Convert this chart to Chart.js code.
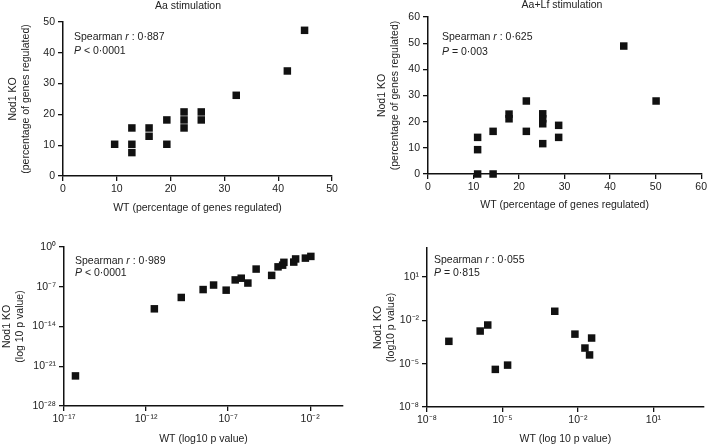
<!DOCTYPE html>
<html>
<head>
<meta charset="utf-8">
<script src="https://cdn.jsdelivr.net/npm/chart.js@4/dist/chart.umd.min.js"></script>
<style>
  html, body { margin: 0; padding: 0; background: #fff; }
  #wrap { position: relative; width: 709px; height: 446px; overflow: hidden; }
  canvas { position: absolute; }
</style>
</head>
<body>
<div id="wrap">
  <canvas id="c1" width="355" height="220" style="left:0;top:0;width:355px;height:220px"></canvas>
  <canvas id="c2" width="354" height="220" style="left:355px;top:0;width:354px;height:220px"></canvas>
  <canvas id="c3" width="355" height="226" style="left:0;top:220px;width:355px;height:226px"></canvas>
  <canvas id="c4" width="354" height="226" style="left:355px;top:220px;width:354px;height:226px"></canvas>
</div>
<script>
// Aa stimulation, % of genes regulated
const aaWT = [9.6, 12.8, 12.8, 12.8, 16.0, 16.0, 19.3, 19.3, 22.5, 22.5, 22.5, 25.7, 25.7, 32.2, 41.7, 44.9];
const aaKO = [10.3, 15.6, 10.3, 7.6, 15.6, 12.9, 18.2, 10.3, 20.8, 18.2, 15.6, 20.8, 18.2, 26.2, 34.1, 47.3];

// Aa+Lf stimulation, % of genes regulated
const lfWT = [10.9, 10.9, 10.9, 14.3, 14.3, 17.8, 17.8, 21.6, 21.6, 25.2, 25.2, 25.2, 25.2, 28.7, 28.7, 43.0, 50.1];
const lfKO = [0, 9.3, 14.0, 16.3, 0, 22.9, 21.1, 27.9, 16.3, 23.0, 21.1, 19.2, 11.6, 18.6, 14.0, 48.9, 27.9];

// Aa stimulation, p values
const aaPWT = [5.0e-17, 3.2e-12, 1.4e-10, 3.0e-9, 1.3e-8, 7.6e-8, 2.7e-7, 6.3e-7, 1.6e-6, 5.1e-6, 4.5e-5, 1.1e-4, 2.1e-4, 2.5e-4, 1.0e-3, 1.3e-3, 5.1e-3, 1.1e-2];
const aaPKO = [2.0e-23, 1.3e-11, 1.3e-9, 3.2e-8, 2.0e-7, 2.5e-8, 1.6e-6, 3.2e-6, 4.5e-7, 1.3e-4, 1.0e-5, 3.2e-4, 6.3e-4, 2.0e-3, 2.2e-3, 7.9e-3, 1.1e-2, 2.2e-2];

// Aa+Lf stimulation, p values
const lfPWT = [7.4e-8, 1.3e-6, 2.6e-6, 5.2e-6, 1.6e-5, 1.2e-3, 7.6e-3, 1.9e-2, 2.9e-2, 3.5e-2];
const lfPKO = [3.5e-4, 1.8e-3, 4.7e-3, 4.0e-6, 7.9e-6, 4.2e-2, 1.1e-3, 1.2e-4, 4.0e-5, 5.9e-4];

// tick values
const pctTicks50 = [0, 10, 20, 30, 40, 50];
const pctTicks60 = [0, 10, 20, 30, 40, 50, 60];
const aaPXTicks = [1e-17, 1e-12, 1e-7, 1e-2];
const aaPYTicks = [1e-28, 1e-21, 1e-14, 1e-7, 1];
const lfPTicks = [1e-8, 1e-5, 1e-2, 1e1];

const titles = ['Aa stimulation', 'Aa+Lf stimulation', '', ''];
const stats = [
  [['Spearman ', 0], ['r', 1], [' : 0\u00b7887', 0]], [['P', 1], [' < 0\u00b70001', 0]],
  [['Spearman ', 0], ['r', 1], [' : 0\u00b7625', 0]], [['P', 1], [' = 0\u00b7003', 0]],
  [['Spearman ', 0], ['r', 1], [' : 0\u00b7989', 0]], [['P', 1], [' < 0\u00b70001', 0]],
  [['Spearman ', 0], ['r', 1], [' : 0\u00b7055', 0]], [['P', 1], [' = 0\u00b7815', 0]]
];

const FONT = "'Liberation Sans', Arial, sans-serif";
const INK = '#222';
Chart.defaults.font.family = FONT;
Chart.defaults.font.size = 10.5;
Chart.defaults.color = INK;

const SUP = {'-': '\u207b', '0': '\u2070', '1': '\u00b9', '2': '\u00b2', '3': '\u00b3', '4': '\u2074',
  '5': '\u2075', '6': '\u2076', '7': '\u2077', '8': '\u2078', '9': '\u2079'};
function pow10(v) {
  const e = Math.round(Math.log10(v));
  return '10' + String(e).split('').map(c => SUP[c]).join('');
}

// draws panel title and the Spearman text
function notes(cfg) {
  return {
    id: 'notes',
    afterDraw(chart) {
      const ctx = chart.ctx;
      ctx.save();
      ctx.fillStyle = INK;
      ctx.textBaseline = 'middle';
      if (cfg.title) {
        ctx.textAlign = 'center';
        ctx.font = '10.5px ' + FONT;
        ctx.fillText(cfg.title, cfg.tx, cfg.ty);
      }
      ctx.textAlign = 'left';
      cfg.lines.forEach((runs, i) => {
        let x = cfg.x;
        runs.forEach(([t, it]) => {
          ctx.font = (it ? 'italic ' : '') + '10.5px ' + FONT;
          ctx.fillText(t, x, cfg.y + i * cfg.gap);
          x += ctx.measureText(t).width;
        });
      });
      ctx.restore();
    }
  };
}

function axis(o) {
  const left = o.pos === 'left';
  return {
    type: o.log ? 'logarithmic' : 'linear',
    position: o.pos,
    min: o.ticks[0],
    max: o.max,
    afterFit: s => { if (left) s.width = o.size; else s.height = o.size; },
    afterBuildTicks: s => { s.ticks = o.ticks.map(v => ({value: v})); },
    ticks: {
      autoSkip: false, maxRotation: 0, padding: left ? 3 : 2,
      callback: o.log ? v => pow10(v) : v => String(v)
    },
    grid: { drawOnChartArea: false, tickLength: 5, color: '#111', lineWidth: 1.3 },
    border: { color: '#111', width: 1.5 },
    title: {
      display: true, text: o.title,
      font: { size: 10.5, lineHeight: 1.3 },
      padding: left ? {top: o.tpad, bottom: 0} : {top: 0, bottom: o.tpad}
    }
  };
}

function panel(id, xs, ys, pad, xAxis, yAxis, note) {
  return new Chart(document.getElementById(id), {
    type: 'scatter',
    data: {
      datasets: [{
        data: xs.map((x, i) => ({x: x, y: ys[i]})),
        pointStyle: 'rect',
        pointRadius: 5.3,
        backgroundColor: '#111',
        borderWidth: 0,
        clip: false
      }]
    },
    options: {
      responsive: false,
      animation: false,
      devicePixelRatio: 1,
      events: [],
      layout: { padding: pad },
      plugins: { legend: { display: false }, tooltip: { enabled: false } },
      scales: { x: axis(xAxis), y: axis(yAxis) }
    },
    plugins: [notes(note)]
  });
}

panel('c1', aaWT, aaKO, {top: 22, right: 23, left: 0, bottom: 0},
  {pos: 'bottom', ticks: pctTicks50, max: 50, size: 44, tpad: 5, title: 'WT (percentage of genes regulated)'},
  {pos: 'left', ticks: pctTicks50, max: 50, size: 63, tpad: 6, title: ['Nod1 KO', '(percentage of genes regulated)']},
  {title: titles[0], tx: 188, ty: 6, x: 74, y: 37, gap: 14.5, lines: [stats[0], stats[1]]});

panel('c2', lfWT, lfKO, {top: 17, right: 5, left: 0, bottom: 0},
  {pos: 'bottom', ticks: pctTicks60, max: 60, size: 46, tpad: 8, title: 'WT (percentage of genes regulated)'},
  {pos: 'left', ticks: pctTicks60, max: 60, size: 73, tpad: 20, title: ['Nod1 KO', '(percentage of genes regulated)']},
  {title: titles[1], tx: 207, ty: 5, x: 87, y: 37.5, gap: 14.2, lines: [stats[2], stats[3]]});

panel('c3', aaPWT, aaPKO, {top: 27, right: 12, left: 0, bottom: 0},
  {pos: 'bottom', log: true, ticks: aaPXTicks, max: 1, size: 40, tpad: 0, title: 'WT (log10 p value)'},
  {pos: 'left', log: true, ticks: aaPYTicks, max: 1, size: 64, tpad: 0, title: ['Nod1 KO', '(log 10 p value)']},
  {title: titles[2], x: 75, y: 41, gap: 12.5, lines: [stats[4], stats[5]]});

panel('c4', lfPWT, lfPKO, {top: 28, right: 4, left: 0, bottom: 0},
  {pos: 'bottom', log: true, ticks: lfPTicks, max: 1e3, size: 39, tpad: 0, title: 'WT (log 10 p value)'},
  {pos: 'left', log: true, ticks: lfPTicks, max: 1e3, size: 72, tpad: 16, title: ['Nod1 KO', '(log10 p value)']},
  {title: titles[3], x: 79, y: 40, gap: 13.3, lines: [stats[6], stats[7]]});
</script>
</body>
</html>
